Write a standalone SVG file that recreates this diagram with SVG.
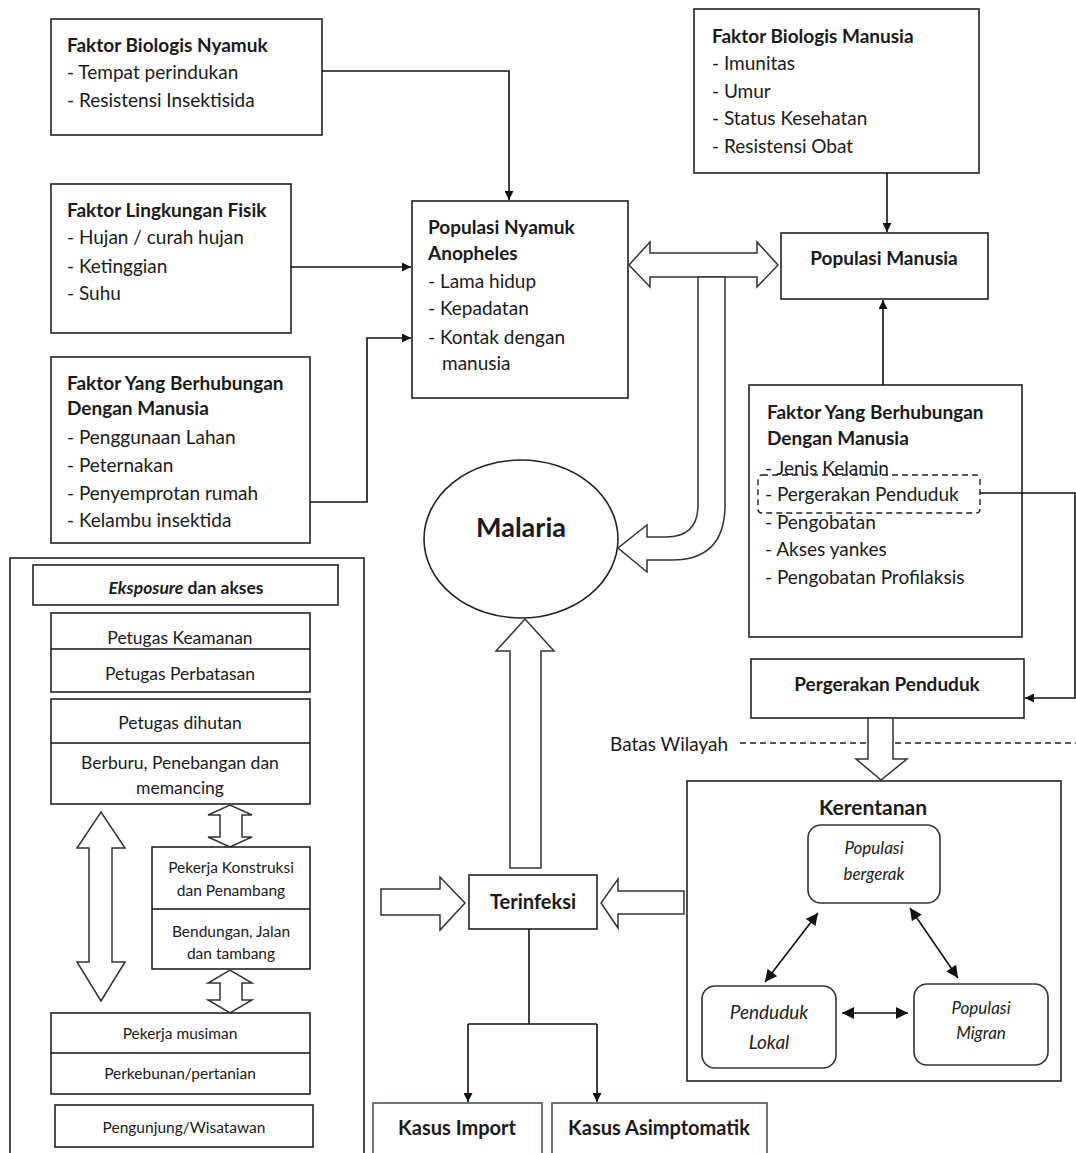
<svg xmlns="http://www.w3.org/2000/svg" width="1076" height="1153" viewBox="0 0 1076 1153">
  <defs>
    <marker id="arr" viewBox="0 0 10 10" refX="10" refY="5" markerWidth="9" markerHeight="9" markerUnits="userSpaceOnUse" orient="auto-start-reverse">
      <path d="M0,0 L10,5 L0,10 Z" fill="#111"/>
    </marker>
    <marker id="arrL" viewBox="0 0 10 10" refX="10" refY="5" markerWidth="13" markerHeight="12" markerUnits="userSpaceOnUse" orient="auto-start-reverse">
      <path d="M0,0 L10,5 L0,10 Z" fill="#111"/>
    </marker>
    <style>
      .box { fill: #fff; stroke: #222; stroke-width: 1.6; }
      .bbox { fill: #fff; stroke: #44546a; stroke-width: 1.6; }
      .rbox { fill: #fff; stroke: #333; stroke-width: 1.6; }
      .dash { fill: none; stroke: #222; stroke-width: 1.4; stroke-dasharray: 6 4; }
      .blk { fill: #fff; stroke: #333; stroke-width: 1.5; stroke-linejoin: miter; }
      .ln { fill: none; stroke: #111; stroke-width: 1.6; }
      text { font-family: Lato, "Open Sans", sans-serif; fill: #1a1a1a; }
      .t { font-size: 19px; }
      .b { font-size: 19px; font-weight: bold; }
      .s { font-size: 15.5px; text-anchor: middle; }
      .m { font-size: 17.5px; text-anchor: middle; }
      .c { text-anchor: middle; }
      .i { font-style: italic; text-anchor: middle; fill: #222; }
    </style>
  </defs>

  <g id="faktor-biologis-nyamuk">
    <rect class="box" x="51" y="19" width="271" height="116"/>
    <text class="b" x="67" y="52">Faktor Biologis Nyamuk</text>
    <text class="t" x="67" y="79">- Tempat perindukan</text>
    <text class="t" x="67" y="107">- Resistensi Insektisida</text>
  </g>

  <g id="faktor-lingkungan-fisik">
    <rect class="box" x="51" y="184" width="240" height="149"/>
    <text class="b" x="67" y="217">Faktor Lingkungan Fisik</text>
    <text class="t" x="67" y="244">- Hujan / curah hujan</text>
    <text class="t" x="67" y="273">- Ketinggian</text>
    <text class="t" x="67" y="300">- Suhu</text>
  </g>

  <g id="faktor-manusia-kiri">
    <rect class="box" x="51" y="357" width="259" height="186"/>
    <text class="b" x="67" y="390">Faktor Yang Berhubungan</text>
    <text class="b" x="67" y="415">Dengan Manusia</text>
    <text class="t" x="67" y="444">- Penggunaan Lahan</text>
    <text class="t" x="67" y="472">- Peternakan</text>
    <text class="t" x="67" y="500">- Penyemprotan rumah</text>
    <text class="t" x="67" y="527">- Kelambu insektida</text>
  </g>

  <g id="populasi-nyamuk">
    <rect class="box" x="412" y="201" width="216" height="197"/>
    <text class="b" x="428" y="234">Populasi Nyamuk</text>
    <text class="b" x="428" y="260">Anopheles</text>
    <text class="t" x="428" y="288">- Lama hidup</text>
    <text class="t" x="428" y="315">- Kepadatan</text>
    <text class="t" x="428" y="344">- Kontak dengan</text>
    <text class="t" x="442" y="370">manusia</text>
  </g>

  <g id="faktor-biologis-manusia">
    <rect class="box" x="694" y="9" width="285" height="164"/>
    <text class="b" x="712" y="43">Faktor Biologis Manusia</text>
    <text class="t" x="712" y="70">- Imunitas</text>
    <text class="t" x="712" y="98">- Umur</text>
    <text class="t" x="712" y="125">- Status Kesehatan</text>
    <text class="t" x="712" y="153">- Resistensi Obat</text>
  </g>

  <g id="populasi-manusia">
    <rect class="box" x="781" y="233" width="207" height="66"/>
    <text class="b c" x="884" y="265">Populasi Manusia</text>
  </g>

  <g id="faktor-manusia-kanan">
    <rect class="box" x="749" y="385" width="273" height="252"/>
    <text class="b" x="767" y="419">Faktor Yang Berhubungan</text>
    <text class="b" x="767" y="445">Dengan Manusia</text>
    <text class="t" x="765" y="475">- Jenis Kelamin</text>
    <rect class="dash" x="758" y="475" width="222" height="38" rx="4"/>
    <text class="t" x="765" y="501">- Pergerakan Penduduk</text>
    <text class="t" x="765" y="529">- Pengobatan</text>
    <text class="t" x="765" y="556">- Akses yankes</text>
    <text class="t" x="765" y="584">- Pengobatan Profilaksis</text>
  </g>

  <g id="pergerakan-penduduk">
    <rect class="box" x="751" y="659" width="273" height="59"/>
    <text class="b c" x="887" y="691">Pergerakan Penduduk</text>
  </g>

  <g id="batas-wilayah">
    <text class="t" x="610" y="751">Batas Wilayah</text>
  </g>

  <g id="malaria">
    <ellipse class="box" cx="521" cy="539" rx="97" ry="79" stroke-width="1.3"/>
    <text class="c" x="521" y="537" font-size="27" font-weight="bold">Malaria</text>
  </g>

  <g id="terinfeksi">
    <rect class="box" x="469" y="875" width="128" height="54"/>
    <text class="c" x="533" y="909" font-size="20" font-weight="bold">Terinfeksi</text>
  </g>

  <g id="kerentanan">
    <rect class="box" x="687" y="781" width="374" height="300"/>
    <text class="c" x="873" y="815" font-size="21" font-weight="bold">Kerentanan</text>
  </g>

  <g id="populasi-bergerak">
    <rect class="rbox" x="808" y="825" width="132" height="78" rx="13"/>
    <text class="i" x="874" y="854" font-size="17">Populasi</text>
    <text class="i" x="874" y="880" font-size="17">bergerak</text>
  </g>

  <g id="penduduk-lokal">
    <rect class="rbox" x="702" y="986" width="134" height="82" rx="13"/>
    <text class="i" x="769" y="1019" font-size="19">Penduduk</text>
    <text class="i" x="769" y="1049" font-size="19">Lokal</text>
  </g>

  <g id="populasi-migran">
    <rect class="rbox" x="914" y="984" width="134" height="81" rx="13"/>
    <text class="i" x="981" y="1014" font-size="17">Populasi</text>
    <text class="i" x="981" y="1039" font-size="17">Migran</text>
  </g>

  <g id="kasus-import">
    <rect class="bbox" x="373" y="1103" width="169" height="60"/>
    <text class="c" x="457" y="1135" font-size="20" font-weight="bold">Kasus Import</text>
  </g>

  <g id="kasus-asimptomatik">
    <rect class="bbox" x="552" y="1103" width="215" height="60"/>
    <text class="c" x="659" y="1135" font-size="20" font-weight="bold">Kasus Asimptomatik</text>
  </g>

  <g id="eksposure-akses">
    <rect class="box" x="10" y="558" width="354" height="610"/>
    <rect class="box" x="33" y="565" width="305" height="40"/>
    <text class="m" x="186" y="594" font-weight="bold"><tspan font-style="italic">Eksposure</tspan> dan akses</text>

    <rect class="box" x="51" y="613" width="259" height="79"/>
    <line class="ln" x1="51" y1="649" x2="310" y2="649" stroke="#222"/>
    <text class="m" x="180" y="644">Petugas Keamanan</text>
    <text class="m" x="180" y="680">Petugas Perbatasan</text>

    <rect class="box" x="51" y="699" width="259" height="105"/>
    <line class="ln" x1="51" y1="743" x2="310" y2="743" stroke="#222"/>
    <text class="m" x="180" y="729">Petugas dihutan</text>
    <text class="m" x="180" y="769">Berburu, Penebangan dan</text>
    <text class="m" x="180" y="794">memancing</text>

    <path class="blk" d="M220 815 L208 815 L230 805 L252 815 L242 815 L242 837 L252 837 L230 847 L208 837 L220 837 Z"/>

    <rect class="box" x="152" y="847" width="158" height="122"/>
    <line class="ln" x1="152" y1="909" x2="310" y2="909" stroke="#222"/>
    <text class="s" x="231" y="873">Pekerja Konstruksi</text>
    <text class="s" x="231" y="896">dan Penambang</text>
    <text class="s" x="231" y="937">Bendungan, Jalan</text>
    <text class="s" x="231" y="959">dan tambang</text>

    <path class="blk" d="M220 983 L208 983 L230 970 L252 983 L242 983 L242 1000 L252 1000 L230 1013 L208 1000 L220 1000 Z"/>

    <path class="blk" d="M89 848 L77 848 L101 812 L125 848 L112 848 L112 962 L125 962 L101 1001 L77 962 L89 962 Z"/>

    <rect class="box" x="51" y="1013" width="259" height="81"/>
    <line class="ln" x1="51" y1="1053" x2="310" y2="1053" stroke="#222"/>
    <text class="s" x="180" y="1039">Pekerja musiman</text>
    <text class="s" x="180" y="1079">Perkebunan/pertanian</text>

    <rect class="box" x="55" y="1105" width="258" height="42"/>
    <text class="s" x="184" y="1133">Pengunjung/Wisatawan</text>
  </g>

  <!-- connectors -->
  <g id="connectors">
    <path class="ln" d="M322 71 H509 V200" marker-end="url(#arr)"/>
    <path class="ln" d="M291 267 H411" marker-end="url(#arr)"/>
    <path class="ln" d="M310 502 H367 V338 H411" marker-end="url(#arr)"/>
    <path class="ln" d="M887 173 V232" marker-end="url(#arr)"/>
    <path class="ln" d="M883 385 V300" marker-end="url(#arr)"/>
    <path class="ln" d="M980 493 H1075 V698 H1025" marker-end="url(#arr)"/>
    <path class="ln" d="M529 929 V1024"/>
    <path class="ln" d="M468 1024 H597"/>
    <path class="ln" d="M468 1024 V1102" marker-end="url(#arr)"/>
    <path class="ln" d="M597 1024 V1102" marker-end="url(#arr)"/>
    <!-- block arrows -->
    <path class="blk" d="M629 265 L650 242 L650 253 L757 253 L757 242 L778 265 L757 287 L757 277 L650 277 L650 287 Z"/>
    <path class="blk" d="M698 277 L698 505 Q698 537 666 537 L647 537 L647 525 L618 548 L647 572 L647 560 L672 560 Q725 560 725 505 L725 277 Z"/>
    <path class="blk" d="M510 868 L510 651 L496 651 L525 619 L554 651 L541 651 L541 868 Z"/>
    <path class="blk" d="M381 889 L440 889 L440 877 L465 903 L440 930 L440 915 L381 915 Z"/>
    <path class="blk" d="M684 891 L618 891 L618 879 L601 903 L618 928 L618 914 L684 914 Z"/>
    <path class="blk" d="M868 718 L868 759 L856 759 L881 780 L907 759 L893 759 L893 718 Z"/>
    <!-- region boundary -->
    <path class="dash" d="M740 743 H866 M895 743 H1076" stroke-dasharray="8 6"/>
    <!-- vulnerability links -->
    <path class="ln" d="M818 913 L765 982" marker-start="url(#arrL)" marker-end="url(#arrL)"/>
    <path class="ln" d="M910 908 L958 978" marker-start="url(#arrL)" marker-end="url(#arrL)"/>
    <path class="ln" d="M842 1013 L908 1013" marker-start="url(#arrL)" marker-end="url(#arrL)"/>
  </g>
</svg>
